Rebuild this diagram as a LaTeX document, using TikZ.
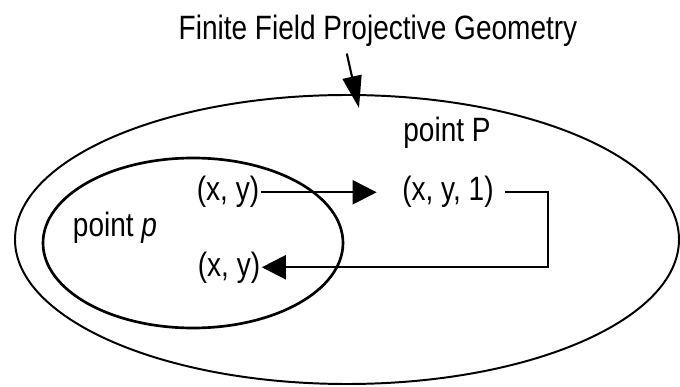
\documentclass[tikz,border=0pt]{standalone}
\usepackage{fontspec}
\setmainfont{Liberation Sans}[FakeStretch=0.83]
\usetikzlibrary{arrows.meta}

\begin{document}
\begin{tikzpicture}[
  x=0.025cm, y=-0.025cm,
  lbl/.style={font=\fontsize{24pt}{27pt}\selectfont, inner sep=1pt, anchor=base},
  ring/.style={draw=black, line width=1.4pt},
  arr/.style={-{Triangle[length=0.6cm, width=0.6cm]}, line width=1.5pt},
  ptr/.style={-{Triangle[length=0.8cm, width=0.48cm]}, line width=1.5pt}
]
  \useasboundingbox (0,0) rectangle (680,387);

  % the two sets
  \draw[ring] (347,239.5) ellipse [x radius=332, y radius=144.5];
  \draw[ring, line width=1.9pt] (193,243) ellipse [x radius=150, y radius=85];

  \node[lbl] (title) at (378,40) {Finite Field Projective Geometry};
  \node[lbl] (bigP) at (447,142) {point P};
  \node[lbl] (xyone) at (448,201) {(x, y, 1)};
  \node[lbl] (xytop) at (228,201) {(x, y)};
  \node[lbl] (smallp) at (115,237) {point \textit{p}};
  \node[lbl] (xybot) at (229,276) {(x, y)};

  \coordinate (tip) at (359,108);
  \coordinate (turn) at (548,193);

  \draw[ptr] ([xshift=-0.78cm, yshift=-0.12cm]title.south) -- (tip);
  \draw[arr, shorten >=0.6cm] (xytop) -- (xyone);
  \draw[arr, shorten <=0.25cm] (xyone.east) -- (xyone.east -| turn) |- (xybot.east);
\end{tikzpicture}
\end{document}
